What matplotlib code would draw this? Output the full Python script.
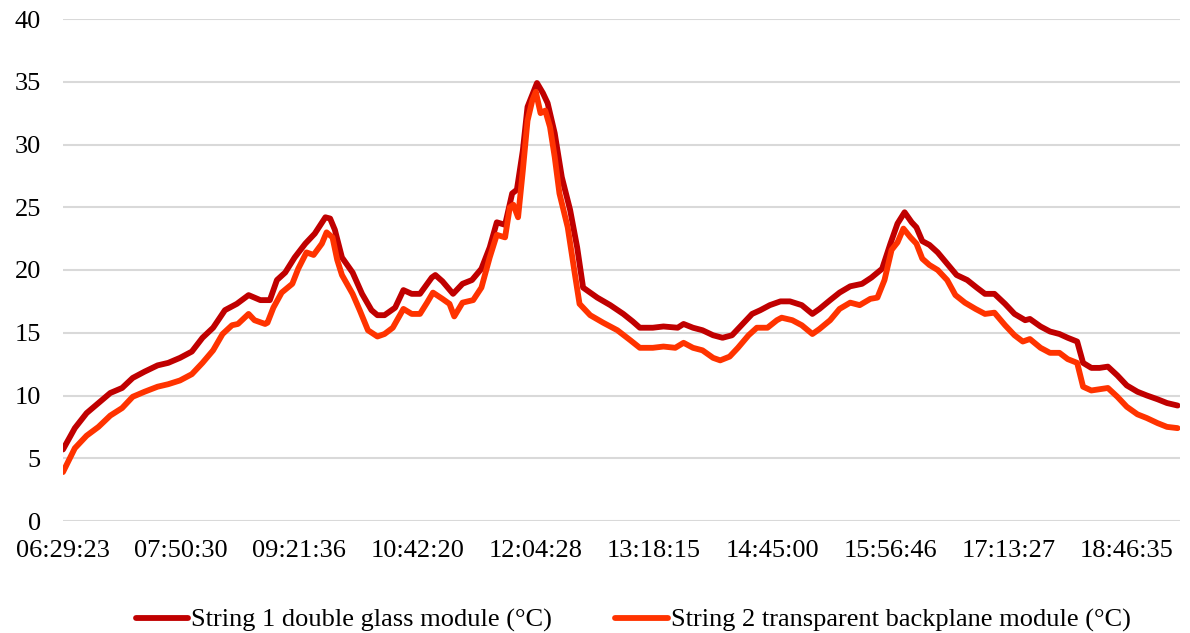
import matplotlib
matplotlib.use("Agg")
import matplotlib.pyplot as plt

plt.rcParams['font.family'] = ['Liberation Serif', 'DejaVu Serif']

# category labels shown every 100 samples
tick_idx = [0, 100, 200, 300, 400, 500, 600, 700, 800, 900]
tick_labels = ['06:29:23', '07:50:30', '09:21:36', '10:42:20', '12:04:28',
               '13:18:15', '14:45:00', '15:56:46', '17:13:27', '18:46:35']
n_samples = 945

# String 1 double glass module: sample index / temperature
s1_idx = [0, 10, 20, 30, 40, 50, 59, 69, 80, 89, 99, 109, 118, 127, 137, 147,
          157, 167, 175, 181, 188, 196, 205, 213, 222, 226, 230, 236, 245, 253,
          261, 266, 272, 281, 288, 295, 302, 312, 315, 321, 330, 338, 346, 354,
          361, 367, 374, 380, 384, 389, 393, 401, 406, 410, 416, 422, 429, 435,
          440, 452, 463, 474, 482, 488, 499, 508, 520, 525, 533, 541, 550, 558,
          566, 574, 583, 590, 598, 607, 615, 625, 634, 640, 649, 657, 666, 676,
          684, 693, 700, 706, 712, 718, 722, 727, 733, 740, 748, 756, 765, 773,
          780, 788, 797, 805, 814, 818, 827, 835, 843, 850, 858, 863, 870, 877,
          884, 892, 900, 909, 917, 926, 934, 943]
s1_val = [5.7, 7.4, 8.6, 9.4, 10.2, 10.6, 11.4, 11.9, 12.4, 12.6, 13.0, 13.5,
          14.6, 15.4, 16.8, 17.3, 18.0, 17.6, 17.6, 19.2, 19.8, 21.0, 22.1, 22.9,
          24.2, 24.1, 23.2, 21.0, 19.8, 18.1, 16.8, 16.4, 16.4, 17.0, 18.4, 18.1,
          18.1, 19.4, 19.6, 19.1, 18.1, 18.9, 19.2, 20.1, 21.8, 23.8, 23.6, 26.1,
          26.4, 29.5, 33.0, 34.9, 34.1, 33.3, 30.9, 27.4, 24.8, 21.8, 18.6, 17.8,
          17.2, 16.5, 15.9, 15.4, 15.4, 15.5, 15.4, 15.7, 15.4, 15.2, 14.8, 14.6,
          14.8, 15.6, 16.5, 16.8, 17.2, 17.5, 17.5, 17.2, 16.5, 16.9, 17.6, 18.2,
          18.7, 18.9, 19.4, 20.1, 22.1, 23.7, 24.6, 23.8, 23.4, 22.3, 22.0, 21.4,
          20.5, 19.6, 19.2, 18.6, 18.1, 18.1, 17.3, 16.5, 16.0, 16.1, 15.5, 15.1,
          14.9, 14.6, 14.3, 12.6, 12.2, 12.2, 12.3, 11.6, 10.8, 10.3, 10.0, 9.7,
          9.4, 9.2]

# String 2 transparent backplane module: sample index / temperature
s2_idx = [0, 10, 20, 30, 40, 50, 59, 69, 80, 89, 99, 109, 118, 127, 135, 143,
          148, 157, 162, 171, 173, 178, 185, 194, 199, 206, 212, 219, 223, 228,
          232, 236, 245, 251, 258, 266, 272, 279, 288, 295, 302, 308, 313, 321,
          327, 331, 338, 347, 354, 361, 367, 374, 378, 381, 385, 389, 393, 397,
          400, 404, 408, 412, 416, 420, 427, 433, 437, 446, 457, 469, 480, 488,
          499, 508, 518, 525, 533, 541, 550, 556, 564, 571, 580, 587, 596, 604,
          608, 617, 625, 634, 640, 649, 657, 666, 674, 683, 689, 695, 701, 706,
          711, 717, 722, 727, 733, 740, 748, 755, 763, 772, 780, 788, 797, 805,
          812, 818, 827, 835, 843, 850, 858, 863, 870, 877, 884, 892, 900, 909,
          917, 926, 934, 943]
s2_val = [3.9, 5.8, 6.8, 7.5, 8.4, 9.0, 9.9, 10.3, 10.7, 10.9, 11.2, 11.7, 12.6,
          13.6, 14.9, 15.6, 15.7, 16.5, 16.0, 15.7, 15.8, 17.0, 18.2, 18.9, 20.1,
          21.4, 21.2, 22.1, 23.0, 22.6, 20.8, 19.6, 18.1, 16.8, 15.2, 14.7, 14.9,
          15.4, 16.9, 16.5, 16.5, 17.4, 18.2, 17.7, 17.3, 16.3, 17.4, 17.6, 18.6,
          21.0, 22.8, 22.6, 25.0, 25.2, 24.2, 27.9, 31.9, 33.5, 34.2, 32.5, 32.7,
          31.4, 29.0, 26.1, 23.4, 19.7, 17.3, 16.4, 15.8, 15.2, 14.4, 13.8, 13.8,
          13.9, 13.8, 14.2, 13.8, 13.6, 13.0, 12.8, 13.1, 13.8, 14.8, 15.4, 15.4,
          16.0, 16.2, 16.0, 15.6, 14.9, 15.3, 16.0, 16.9, 17.4, 17.2, 17.7, 17.8,
          19.2, 21.6, 22.2, 23.3, 22.6, 22.1, 20.9, 20.4, 20.0, 19.2, 18.0, 17.4,
          16.9, 16.5, 16.6, 15.6, 14.8, 14.3, 14.5, 13.8, 13.4, 13.4, 12.9, 12.6,
          10.7, 10.4, 10.5, 10.6, 9.9, 9.1, 8.5, 8.2, 7.8, 7.5, 7.4]

fig = plt.figure(figsize=(11.9, 6.33), dpi=100)
ax = fig.add_axes([63 / 1190, 1 - 521 / 633, 1117 / 1190, 502 / 633])

ax.plot(s1_idx, s1_val, color='#C00000', lw=4.2, solid_joinstyle='round',
        solid_capstyle='round', label='String 1 double glass module (°C)')
ax.plot(s2_idx, s2_val, color='#FF3300', lw=4.2, solid_joinstyle='round',
        solid_capstyle='round', label='String 2 transparent backplane module (°C)')

ax.set_xlim(0, n_samples)
ax.set_ylim(0, 40)
ax.set_yticks(range(0, 41, 5))
ax.set_xticks(tick_idx)
ax.set_xticklabels(tick_labels)
ax.grid(axis='y', color='#D9D9D9', lw=1.5)
ax.set_axisbelow(True)
for s in ax.spines.values():
    s.set_visible(False)
ax.tick_params(axis='both', length=0, labelsize=19, colors='#000000')
ax.tick_params(axis='y', pad=16)
ax.tick_params(axis='x', pad=14)

fig.legend(loc='center', bbox_to_anchor=(0.532, 0.02), ncol=2, frameon=False,
           fontsize=19, handlelength=2.0, handletextpad=0.1, columnspacing=2.4)

fig.savefig('out.png', dpi=100)
